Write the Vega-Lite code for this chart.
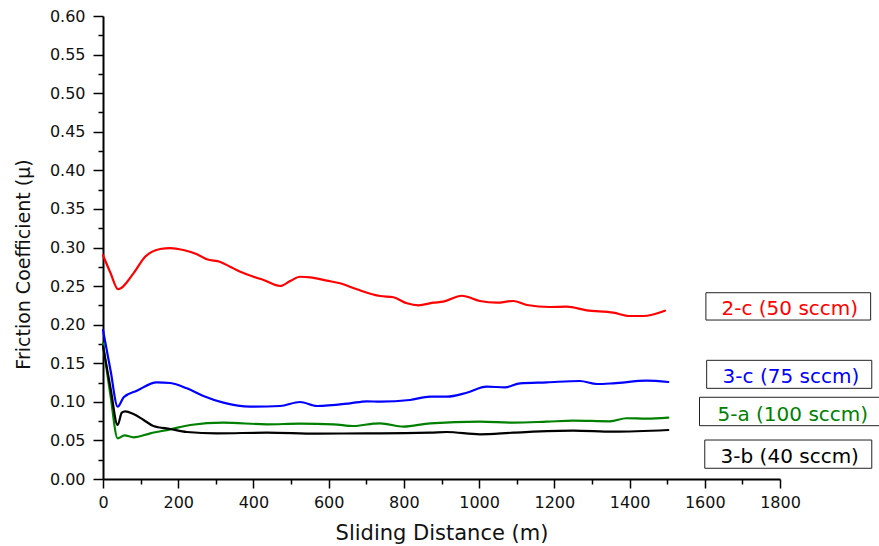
{
  "$schema": "https://vega.github.io/schema/vega-lite/v6.json",
  "width": 677,
  "height": 463,
  "autosize": {"type": "none"},
  "padding": {"left": 103, "top": 16, "right": 99, "bottom": 67},
  "background": "white",
  "config": {
    "view": {"stroke": null},
    "font": "DejaVu Sans",
    "axis": {
      "grid": false,
      "domainColor": "#000000",
      "domainWidth": 2,
      "tickColor": "#000000",
      "tickWidth": 1.5,
      "labelFont": "DejaVu Sans",
      "labelFontSize": 16,
      "labelColor": "#111111",
      "labelOverlap": false,
      "labelFlush": false,
      "titleFont": "DejaVu Sans",
      "titleFontWeight": "normal",
      "titleColor": "#111111"
    }
  },
  "datasets": {
    "curves": [
      {"sample": "2-c", "distance": 0, "mu": 0.290},
      {"sample": "2-c", "distance": 20, "mu": 0.267},
      {"sample": "2-c", "distance": 40, "mu": 0.246},
      {"sample": "2-c", "distance": 81, "mu": 0.2665},
      {"sample": "2-c", "distance": 112, "mu": 0.288},
      {"sample": "2-c", "distance": 152, "mu": 0.298},
      {"sample": "2-c", "distance": 179, "mu": 0.2993},
      {"sample": "2-c", "distance": 214, "mu": 0.2967},
      {"sample": "2-c", "distance": 250, "mu": 0.2912},
      {"sample": "2-c", "distance": 276, "mu": 0.2847},
      {"sample": "2-c", "distance": 312, "mu": 0.2812},
      {"sample": "2-c", "distance": 338, "mu": 0.2751},
      {"sample": "2-c", "distance": 365, "mu": 0.2686},
      {"sample": "2-c", "distance": 400, "mu": 0.2621},
      {"sample": "2-c", "distance": 427, "mu": 0.2579},
      {"sample": "2-c", "distance": 471, "mu": 0.2501},
      {"sample": "2-c", "distance": 498, "mu": 0.2566},
      {"sample": "2-c", "distance": 524, "mu": 0.2621},
      {"sample": "2-c", "distance": 551, "mu": 0.2614},
      {"sample": "2-c", "distance": 595, "mu": 0.2570},
      {"sample": "2-c", "distance": 630, "mu": 0.2536},
      {"sample": "2-c", "distance": 675, "mu": 0.2458},
      {"sample": "2-c", "distance": 737, "mu": 0.2371},
      {"sample": "2-c", "distance": 772, "mu": 0.2355},
      {"sample": "2-c", "distance": 808, "mu": 0.2277},
      {"sample": "2-c", "distance": 839, "mu": 0.2251},
      {"sample": "2-c", "distance": 878, "mu": 0.2285},
      {"sample": "2-c", "distance": 905, "mu": 0.2298},
      {"sample": "2-c", "distance": 954, "mu": 0.2375},
      {"sample": "2-c", "distance": 1002, "mu": 0.2307},
      {"sample": "2-c", "distance": 1047, "mu": 0.2285},
      {"sample": "2-c", "distance": 1091, "mu": 0.2307},
      {"sample": "2-c", "distance": 1127, "mu": 0.2255},
      {"sample": "2-c", "distance": 1188, "mu": 0.2229},
      {"sample": "2-c", "distance": 1233, "mu": 0.2233},
      {"sample": "2-c", "distance": 1286, "mu": 0.2186},
      {"sample": "2-c", "distance": 1357, "mu": 0.2155},
      {"sample": "2-c", "distance": 1401, "mu": 0.2112},
      {"sample": "2-c", "distance": 1436, "mu": 0.2112},
      {"sample": "2-c", "distance": 1494, "mu": 0.2181},

      {"sample": "3-c", "distance": 0, "mu": 0.193},
      {"sample": "3-c", "distance": 20, "mu": 0.141},
      {"sample": "3-c", "distance": 39, "mu": 0.0937},
      {"sample": "3-c", "distance": 55, "mu": 0.1059},
      {"sample": "3-c", "distance": 90, "mu": 0.1144},
      {"sample": "3-c", "distance": 143, "mu": 0.1253},
      {"sample": "3-c", "distance": 179, "mu": 0.1244},
      {"sample": "3-c", "distance": 223, "mu": 0.1175},
      {"sample": "3-c", "distance": 267, "mu": 0.1076},
      {"sample": "3-c", "distance": 320, "mu": 0.0989},
      {"sample": "3-c", "distance": 391, "mu": 0.0937},
      {"sample": "3-c", "distance": 471, "mu": 0.0946},
      {"sample": "3-c", "distance": 524, "mu": 0.0998},
      {"sample": "3-c", "distance": 569, "mu": 0.0946},
      {"sample": "3-c", "distance": 657, "mu": 0.0981},
      {"sample": "3-c", "distance": 701, "mu": 0.1007},
      {"sample": "3-c", "distance": 737, "mu": 0.1002},
      {"sample": "3-c", "distance": 816, "mu": 0.1024},
      {"sample": "3-c", "distance": 870, "mu": 0.1067},
      {"sample": "3-c", "distance": 914, "mu": 0.1067},
      {"sample": "3-c", "distance": 967, "mu": 0.1118},
      {"sample": "3-c", "distance": 1020, "mu": 0.1196},
      {"sample": "3-c", "distance": 1069, "mu": 0.1188},
      {"sample": "3-c", "distance": 1109, "mu": 0.1240},
      {"sample": "3-c", "distance": 1180, "mu": 0.1253},
      {"sample": "3-c", "distance": 1268, "mu": 0.1270},
      {"sample": "3-c", "distance": 1313, "mu": 0.1231},
      {"sample": "3-c", "distance": 1357, "mu": 0.1240},
      {"sample": "3-c", "distance": 1445, "mu": 0.1274},
      {"sample": "3-c", "distance": 1503, "mu": 0.1257},

      {"sample": "5-a", "distance": 0, "mu": 0.176},
      {"sample": "5-a", "distance": 20, "mu": 0.108},
      {"sample": "5-a", "distance": 39, "mu": 0.0527},
      {"sample": "5-a", "distance": 57, "mu": 0.0566},
      {"sample": "5-a", "distance": 81, "mu": 0.0540},
      {"sample": "5-a", "distance": 126, "mu": 0.0592},
      {"sample": "5-a", "distance": 179, "mu": 0.0644},
      {"sample": "5-a", "distance": 232, "mu": 0.0700},
      {"sample": "5-a", "distance": 320, "mu": 0.0730},
      {"sample": "5-a", "distance": 436, "mu": 0.0709},
      {"sample": "5-a", "distance": 524, "mu": 0.0717},
      {"sample": "5-a", "distance": 613, "mu": 0.0709},
      {"sample": "5-a", "distance": 666, "mu": 0.0687},
      {"sample": "5-a", "distance": 719, "mu": 0.0717},
      {"sample": "5-a", "distance": 737, "mu": 0.0722},
      {"sample": "5-a", "distance": 799, "mu": 0.0678},
      {"sample": "5-a", "distance": 870, "mu": 0.0722},
      {"sample": "5-a", "distance": 1002, "mu": 0.0743},
      {"sample": "5-a", "distance": 1091, "mu": 0.0730},
      {"sample": "5-a", "distance": 1180, "mu": 0.0743},
      {"sample": "5-a", "distance": 1250, "mu": 0.0756},
      {"sample": "5-a", "distance": 1348, "mu": 0.0748},
      {"sample": "5-a", "distance": 1392, "mu": 0.0787},
      {"sample": "5-a", "distance": 1445, "mu": 0.0782},
      {"sample": "5-a", "distance": 1503, "mu": 0.0795},

      {"sample": "3-b", "distance": 0, "mu": 0.172},
      {"sample": "3-b", "distance": 20, "mu": 0.118},
      {"sample": "3-b", "distance": 39, "mu": 0.0700},
      {"sample": "3-b", "distance": 50, "mu": 0.0859},
      {"sample": "3-b", "distance": 59, "mu": 0.0877},
      {"sample": "3-b", "distance": 81, "mu": 0.0842},
      {"sample": "3-b", "distance": 108, "mu": 0.0765},
      {"sample": "3-b", "distance": 134, "mu": 0.0687},
      {"sample": "3-b", "distance": 179, "mu": 0.0648},
      {"sample": "3-b", "distance": 223, "mu": 0.0609},
      {"sample": "3-b", "distance": 303, "mu": 0.0592},
      {"sample": "3-b", "distance": 436, "mu": 0.0600},
      {"sample": "3-b", "distance": 569, "mu": 0.0587},
      {"sample": "3-b", "distance": 701, "mu": 0.0592},
      {"sample": "3-b", "distance": 737, "mu": 0.0592},
      {"sample": "3-b", "distance": 870, "mu": 0.0600},
      {"sample": "3-b", "distance": 914, "mu": 0.0609},
      {"sample": "3-b", "distance": 1002, "mu": 0.0579},
      {"sample": "3-b", "distance": 1091, "mu": 0.0600},
      {"sample": "3-b", "distance": 1250, "mu": 0.0626},
      {"sample": "3-b", "distance": 1357, "mu": 0.0613},
      {"sample": "3-b", "distance": 1503, "mu": 0.0635}
    ],
    "labels": [
      {"sample": "2-c", "label": "2-c (50 sccm)", "x1": 1603, "x2": 2041, "y1": 0.2414, "y2": 0.2060, "tx": 1826, "ty": 0.2125},
      {"sample": "3-c", "label": "3-c (75 sccm)", "x1": 1605, "x2": 2044, "y1": 0.1538, "y2": 0.1175, "tx": 1829, "ty": 0.1248},
      {"sample": "5-a", "label": "5-a (100 sccm)", "x1": 1586, "x2": 2120, "y1": 0.1059, "y2": 0.0691, "tx": 1834, "ty": 0.0755},
      {"sample": "3-b", "label": "3-b (40 sccm)", "x1": 1600, "x2": 2044, "y1": 0.0505, "y2": 0.0139, "tx": 1826, "ty": 0.0211}
    ]
  },
  "layer": [
    {
      "data": {"name": "curves"},
      "mark": {"type": "line", "interpolate": "monotone", "clip": false, "strokeJoin": "round", "strokeCap": "round"},
      "encoding": {
        "x": {
          "field": "distance", "type": "quantitative",
          "scale": {"domain": [0, 1800], "nice": false, "zero": false},
          "axis": {
            "orient": "bottom",
            "values": [0, 200, 400, 600, 800, 1000, 1200, 1400, 1600, 1800],
            "format": "d", "tickSize": 9, "labelPadding": 6,
            "title": "Sliding Distance (m)", "titleFontSize": 21,
            "titleY": 60, "titleBaseline": "alphabetic"
          }
        },
        "y": {
          "field": "mu", "type": "quantitative",
          "scale": {"domain": [0, 0.6], "nice": false},
          "axis": {
            "orient": "left",
            "values": [0, 0.05, 0.1, 0.15, 0.2, 0.25, 0.3, 0.35, 0.4, 0.45, 0.5, 0.55, 0.6],
            "format": ".2f", "tickSize": 10, "labelPadding": 8,
            "title": "Friction Coefficient (μ)", "titleFontSize": 19,
            "titleAngle": -90, "titleX": -74, "titleY": 248,
            "titleBaseline": "alphabetic", "titleAlign": "center"
          }
        },
        "color": {
          "field": "sample", "type": "nominal",
          "scale": {"domain": ["2-c", "3-c", "5-a", "3-b"], "range": ["#ff0000", "#0000ff", "#008000", "#000000"]},
          "legend": null
        },
        "strokeWidth": {
          "field": "sample", "type": "nominal",
          "scale": {"domain": ["2-c", "3-c", "5-a", "3-b"], "range": [2.2, 2.2, 1.7, 1.7]},
          "legend": null
        }
      }
    },
    {
      "data": {"name": "labels"},
      "mark": {"type": "rect", "fill": "white", "stroke": "#222222", "strokeWidth": 1, "clip": false},
      "encoding": {
        "x": {
          "field": "x1", "type": "quantitative",
          "scale": {"domain": [0, 1800], "nice": false, "zero": false},
          "axis": {
            "orient": "bottom",
            "values": [100, 300, 500, 700, 900, 1100, 1300, 1500, 1700],
            "labels": false, "domain": false, "tickSize": 5, "title": null
          }
        },
        "x2": {"field": "x2"},
        "y": {
          "field": "y1", "type": "quantitative",
          "scale": {"domain": [0, 0.6], "nice": false},
          "axis": {
            "orient": "left",
            "values": [0.025, 0.075, 0.125, 0.175, 0.225, 0.275, 0.325, 0.375, 0.425, 0.475, 0.525, 0.575],
            "labels": false, "domain": false, "tickSize": 5, "title": null
          }
        },
        "y2": {"field": "y2"}
      }
    },
    {
      "data": {"name": "labels"},
      "mark": {"type": "text", "fontSize": 20, "font": "DejaVu Sans", "align": "center", "baseline": "alphabetic", "clip": false},
      "encoding": {
        "x": {"field": "tx", "type": "quantitative", "scale": {"domain": [0, 1800], "nice": false, "zero": false}, "axis": null},
        "y": {"field": "ty", "type": "quantitative", "scale": {"domain": [0, 0.6], "nice": false}, "axis": null},
        "text": {"field": "label"},
        "color": {"field": "sample", "type": "nominal", "legend": null}
      }
    }
  ],
  "resolve": {"axis": {"x": "independent", "y": "independent"}}
}
